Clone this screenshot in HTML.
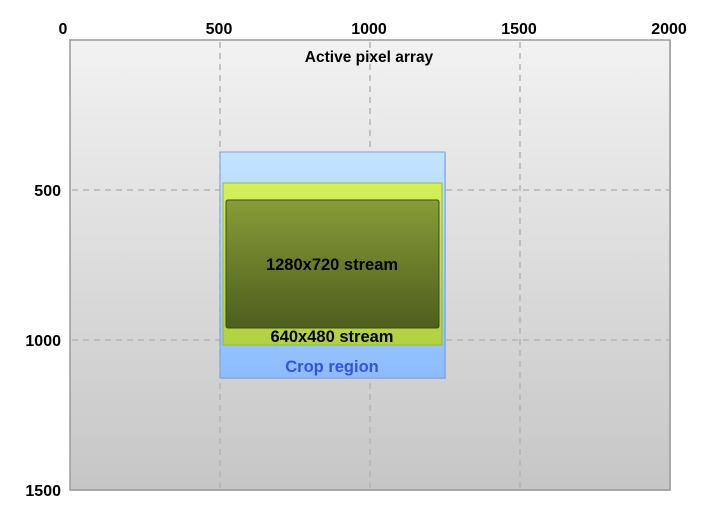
<!DOCTYPE html>
<html><head><meta charset="utf-8"><style>
html,body{margin:0;padding:0;background:#fff;width:712px;height:520px;overflow:hidden}
svg{display:block}
text{font-family:"Liberation Sans",sans-serif;font-weight:bold}
</style></head><body>
<svg width="712" height="520" viewBox="0 0 712 520" xmlns="http://www.w3.org/2000/svg">
<defs>
<linearGradient id="bg" x1="0" y1="0" x2="0" y2="1"><stop offset="0" stop-color="#f2f2f2"/><stop offset="1" stop-color="#c6c6c6"/></linearGradient>
<linearGradient id="bl" x1="0" y1="0" x2="0" y2="1"><stop offset="0" stop-color="#c4e4ff"/><stop offset="1" stop-color="#8cbcff"/></linearGradient>
<linearGradient id="gr" x1="0" y1="0" x2="0" y2="1"><stop offset="0" stop-color="#d4f05a"/><stop offset="1" stop-color="#b2d040"/></linearGradient>
<linearGradient id="ol" x1="0" y1="0" x2="0" y2="1"><stop offset="0" stop-color="#889c38"/><stop offset="1" stop-color="#4e5e1e"/></linearGradient>
</defs>
<rect x="71" y="41" width="600" height="450" fill="#aaa" opacity="0.5"/>
<rect x="70" y="40" width="600" height="450" fill="url(#bg)" stroke="#9a9a9a" stroke-width="1.5"/>
<g stroke="#b4b4b4" stroke-width="1.5" stroke-dasharray="6,5">
<line x1="220" y1="42" x2="220" y2="489"/>
<line x1="370" y1="42" x2="370" y2="489"/>
<line x1="520" y1="42" x2="520" y2="489"/>
<line x1="72" y1="190" x2="669" y2="190"/>
<line x1="72" y1="340" x2="669" y2="340"/>
</g>
<text x="369" y="62" font-size="15.5" text-anchor="middle" fill="#000">Active pixel array</text>
<g font-size="16" fill="#000" text-anchor="middle">
<text x="63" y="34">0</text>
<text x="219" y="34">500</text>
<text x="369" y="34">1000</text>
<text x="519" y="34">1500</text>
<text x="669" y="34">2000</text>
</g>
<g font-size="16" fill="#000" text-anchor="end">
<text x="61" y="196">500</text>
<text x="61" y="346">1000</text>
<text x="61" y="496">1500</text>
</g>
<rect x="221" y="153" width="225" height="226" fill="#999" opacity="0.4"/>
<rect x="220" y="152" width="225" height="226" fill="url(#bl)" stroke="#7aa0e0" stroke-width="1"/>
<rect x="223" y="183" width="219" height="162" fill="url(#gr)" stroke="#9ab830" stroke-width="1"/>
<rect x="226" y="200" width="213" height="128" rx="2" fill="url(#ol)" stroke="#3e4c14" stroke-width="1"/>
<text x="332" y="270" font-size="16.5" text-anchor="middle" fill="#000">1280x720 stream</text>
<text x="332" y="342" font-size="16.5" text-anchor="middle" fill="#000">640x480 stream</text>
<text x="332" y="372" font-size="16.5" text-anchor="middle" fill="#3650e8">Crop region</text>
</svg>
</body></html>
